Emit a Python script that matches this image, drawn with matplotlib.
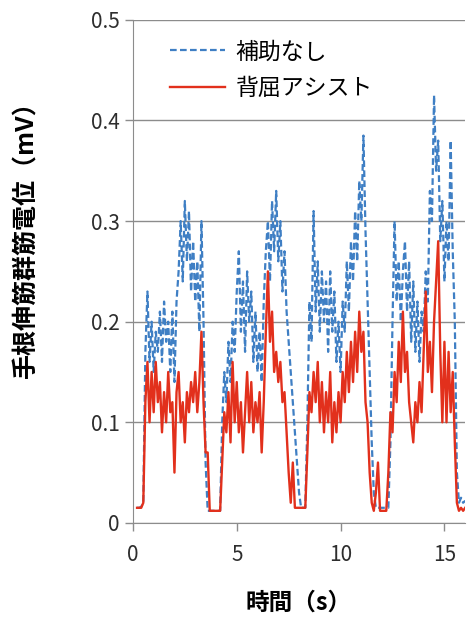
import numpy as np
import matplotlib
matplotlib.use("Agg")
import matplotlib.pyplot as plt

plt.rcParams['font.family'] = ['Noto Sans CJK JP', 'DejaVu Sans']

# EMG of wrist extensors (mV), sampled every 0.1 s from 0.2 s to 16.0 s
no_assist = [
    0.015, 0.015, 0.016, 0.02, 0.17, 0.23, 0.16, 0.20,
    0.15, 0.19, 0.17, 0.21, 0.16, 0.22, 0.18, 0.20, 0.15, 0.21,
    0.14, 0.22, 0.25, 0.30, 0.24, 0.32, 0.26, 0.31, 0.23, 0.28,
    0.22, 0.26, 0.19, 0.30, 0.20, 0.06, 0.012, 0.012, 0.012, 0.012,
    0.012, 0.012, 0.012, 0.10, 0.15, 0.12, 0.18, 0.14, 0.20, 0.17,
    0.23, 0.27, 0.19, 0.24, 0.17, 0.25, 0.20, 0.23, 0.16, 0.21,
    0.15, 0.19, 0.14, 0.22, 0.27, 0.30, 0.24, 0.32, 0.27, 0.33,
    0.26, 0.30, 0.23, 0.27, 0.21, 0.18, 0.15, 0.12, 0.09, 0.06,
    0.03, 0.015, 0.015, 0.015, 0.10, 0.22, 0.18, 0.31, 0.21, 0.26,
    0.19, 0.25, 0.20, 0.24, 0.17, 0.25, 0.19, 0.23, 0.16, 0.20,
    0.15, 0.22, 0.19, 0.26, 0.21, 0.28, 0.24, 0.31, 0.26, 0.34,
    0.30, 0.385, 0.29, 0.22, 0.15, 0.08, 0.03, 0.015, 0.015, 0.015,
    0.015, 0.015, 0.015, 0.015, 0.08, 0.20, 0.30, 0.22, 0.26, 0.20,
    0.25, 0.28, 0.21, 0.26, 0.18, 0.24, 0.17, 0.22, 0.16, 0.21,
    0.19, 0.25, 0.22, 0.33, 0.30, 0.425, 0.35, 0.38, 0.28, 0.32,
    0.24, 0.30, 0.26, 0.38, 0.27, 0.20, 0.05, 0.02, 0.025, 0.02,
    0.022,
]

dorsi_assist = [
    0.015, 0.015, 0.015, 0.02, 0.12, 0.16, 0.10, 0.15,
    0.11, 0.16, 0.12, 0.14, 0.09, 0.13, 0.10, 0.15, 0.11, 0.12,
    0.05, 0.13, 0.15, 0.10, 0.12, 0.08, 0.13, 0.11, 0.14, 0.12,
    0.15, 0.11, 0.14, 0.19, 0.12, 0.07, 0.07, 0.012, 0.012, 0.012,
    0.012, 0.012, 0.012, 0.06, 0.11, 0.09, 0.13, 0.08, 0.16, 0.10,
    0.14, 0.09, 0.12, 0.07, 0.11, 0.15, 0.10, 0.14, 0.09, 0.12,
    0.10, 0.13, 0.07, 0.12, 0.19, 0.25, 0.18, 0.21, 0.15, 0.17,
    0.14, 0.16, 0.12, 0.13, 0.09, 0.05, 0.02, 0.06, 0.015, 0.015,
    0.015, 0.015, 0.015, 0.015, 0.07, 0.13, 0.11, 0.15, 0.12, 0.16,
    0.10, 0.14, 0.09, 0.13, 0.10, 0.15, 0.08, 0.12, 0.09, 0.13,
    0.10, 0.15, 0.12, 0.17, 0.13, 0.18, 0.14, 0.19, 0.15, 0.21,
    0.17, 0.19, 0.12, 0.10, 0.05, 0.02, 0.012, 0.03, 0.06, 0.012,
    0.012, 0.012, 0.012, 0.05, 0.11, 0.09, 0.15, 0.12, 0.18, 0.14,
    0.21, 0.15, 0.17, 0.12, 0.10, 0.08, 0.12, 0.10, 0.14, 0.11,
    0.17, 0.23, 0.15, 0.18, 0.13, 0.20, 0.24, 0.28, 0.17, 0.10,
    0.18, 0.10, 0.17, 0.11, 0.15, 0.08, 0.02, 0.012, 0.015, 0.012,
    0.015,
]

t = np.round(0.2 + 0.1 * np.arange(len(no_assist)), 2)

xticks = [0, 5, 10, 15]
yticks = [0, 0.1, 0.2, 0.3, 0.4, 0.5]
ytick_labels = ["0", "0.1", "0.2", "0.3", "0.4", "0.5"]

fig = plt.figure(figsize=(4.68, 6.21), dpi=100)
ax = fig.add_axes([0.284, 0.158, 0.710, 0.810])

ax.plot(t, no_assist, color="#3f7fc4", lw=1.6, ls=(0, (3, 1.5)), label="補助なし")
ax.plot(t, dorsi_assist, color="#e2301c", lw=1.7, label="背屈アシスト")

ax.set_xlim(0, 16)
ax.set_ylim(0, 0.5)
ax.set_xticks(xticks)
ax.set_yticks(yticks)
ax.set_yticklabels(ytick_labels)

ax.grid(axis="y", color="#8c8c8c", lw=1.0)
ax.set_axisbelow(True)
for side in ["top", "right"]:
    ax.spines[side].set_visible(False)
for side in ["left", "bottom"]:
    ax.spines[side].set_color("#8c8c8c")
ax.tick_params(axis="both", colors="#8c8c8c", labelcolor="#2e2e2e", labelsize=15, length=6, width=1.0)
ax.tick_params(axis="x", pad=9)

ax.set_xlabel("時間（s）", fontsize=17, fontweight="bold", labelpad=18)
ax.set_ylabel("手根伸筋群筋電位（mV）", fontsize=18, fontweight="bold")
ax.yaxis.set_label_coords(-0.285, 0.575)

ax.legend(loc="upper left", bbox_to_anchor=(0.05, 1.0), frameon=False, fontsize=16.5,
          handlelength=2.4, handletextpad=0.45, labelspacing=0.6)

fig.savefig("out.png", dpi=100)
